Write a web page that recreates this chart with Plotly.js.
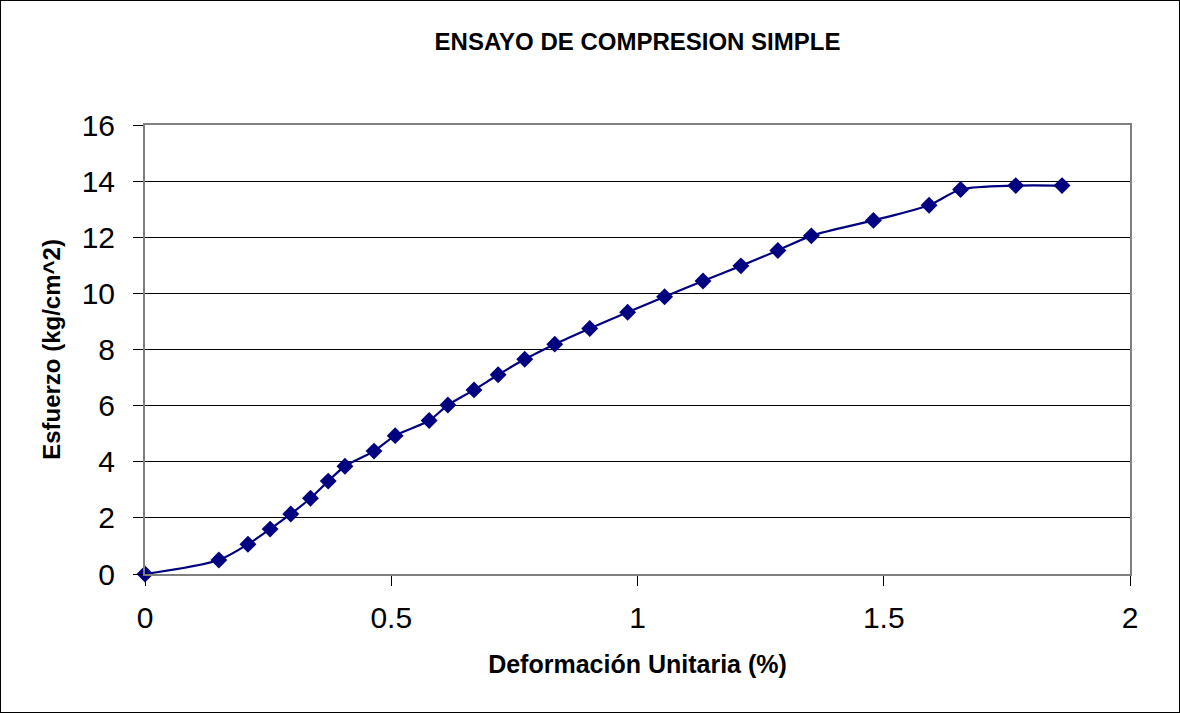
<!DOCTYPE html>
<html>
<head>
<meta charset="utf-8">
<script src="https://cdn.plot.ly/plotly-3.0.1.min.js"></script>
<style>
html,body{margin:0;padding:0;background:#fff;}
#chart{width:1178px;height:711px;border:1px solid #000;}
</style>
</head>
<body>
<div id="chart"></div>
<script>
// Deformación unitaria (%)
const deformacion = [0, 0.150, 0.209, 0.254, 0.296, 0.336, 0.372, 0.406, 0.465, 0.508,
  0.577, 0.615, 0.668, 0.717, 0.771, 0.832, 0.903, 0.980, 1.055, 1.133,
  1.210, 1.285, 1.353, 1.479, 1.592, 1.656, 1.768, 1.862];
// Esfuerzo (kg/cm^2)
const esfuerzo = [0, 0.50, 1.06, 1.60, 2.14, 2.70, 3.31, 3.84, 4.38, 4.93,
  5.47, 6.02, 6.56, 7.10, 7.65, 8.19, 8.75, 9.33, 9.88, 10.44,
  10.98, 11.53, 12.05, 12.60, 13.14, 13.70, 13.84, 13.84];
const xTicks = [0, 0.5, 1, 1.5, 2];
const xTickLabels = ['0', '0.5', '1', '1.5', '2'];
const yTicks = [0, 2, 4, 6, 8, 10, 12, 14, 16];

const font = 'Liberation Sans, Arial, sans-serif';

Plotly.newPlot('chart', [{
  x: deformacion,
  y: esfuerzo,
  type: 'scatter',
  mode: 'lines+markers',
  line: {color: '#000080', width: 2.2, shape: 'spline', smoothing: 0.8},
  marker: {symbol: 'diamond', size: 13, color: '#000080'},
  showlegend: false,
  cliponaxis: false
}], {
  width: 1178,
  height: 711,
  margin: {l: 144, r: 49, t: 124, b: 138},
  paper_bgcolor: '#fff',
  plot_bgcolor: '#fff',
  title: {
    text: '<b>ENSAYO DE COMPRESION SIMPLE</b>',
    font: {family: font, size: 24, color: '#000'},
    x: 0.5, xref: 'paper', y: 1 - 41/711, yref: 'container', yanchor: 'middle'
  },
  xaxis: {
    range: [0, 2],
    tickvals: xTicks,
    ticktext: xTickLabels,
    showgrid: false,
    zeroline: false,
    showline: true,
    linecolor: '#808080',
    linewidth: 2,
    mirror: true,
    ticks: 'outside',
    ticklen: 10,
    tickcolor: '#000',
    ticklabelstandoff: 6,
    tickfont: {family: font, size: 30, color: '#000'},
    title: {text: '<b>Deformación Unitaria (%)</b>', font: {family: font, size: 25, color: '#000'}, standoff: 22}
  },
  yaxis: {
    range: [0, 16],
    tickvals: yTicks,
    showgrid: true,
    gridcolor: '#000',
    gridwidth: 1,
    zeroline: false,
    showline: true,
    linecolor: '#808080',
    linewidth: 2,
    mirror: true,
    ticks: 'outside',
    ticklen: 10,
    tickcolor: '#000',
    ticklabelstandoff: 12,
    tickfont: {family: font, size: 30, color: '#000'},
    title: {text: '<b>Esfuerzo (kg/cm^2)</b>', font: {family: font, size: 24, color: '#000'}, standoff: 14}
  }
}, {displayModeBar: false, staticPlot: true});
</script>
</body>
</html>
